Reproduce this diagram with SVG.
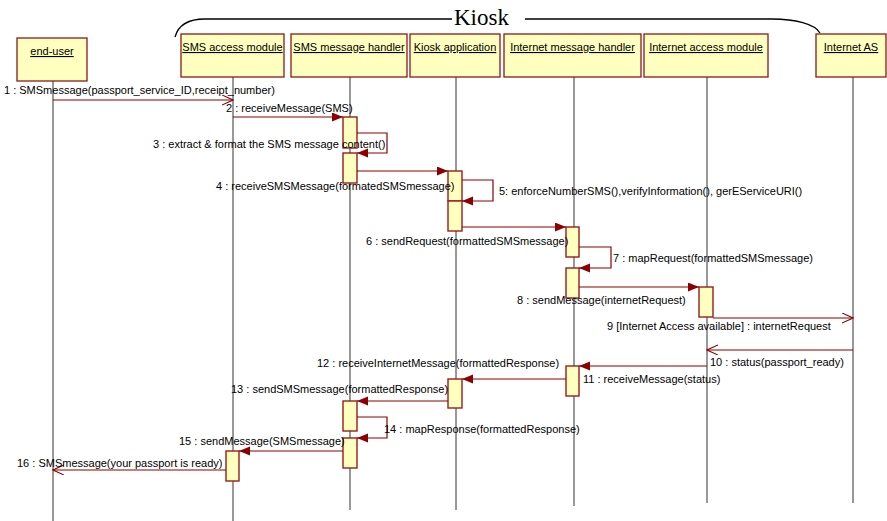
<svg xmlns="http://www.w3.org/2000/svg" width="887" height="521" viewBox="0 0 887 521">
  <style>
    .hdr { fill: #FFFFC0; stroke: #8B1A1A; stroke-width: 1.3; }
    .hdr-t { font-family: "Liberation Sans", Arial, sans-serif; font-size: 11px; fill: #000; text-decoration: underline; text-anchor: middle; }
    .life { stroke: #333; stroke-width: 1; fill: none; }
    .bar { fill: #FFFFC0; stroke: #9B1C1C; stroke-width: 1.4; }
    .msg { stroke: #8B0000; stroke-width: 1.2; fill: none; }
    .call { marker-end: url(#filled); }
    .ret { marker-end: url(#open); }
    .lbl { font-family: "Liberation Sans", Arial, sans-serif; font-size: 11px; fill: #000; }
    .brace { stroke: #000; stroke-width: 1.3; fill: none; }
  </style>
  <defs>
    <marker id="filled" markerUnits="userSpaceOnUse" markerWidth="12" markerHeight="10" refX="11" refY="4.5" orient="auto">
      <path d="M0,0 L11,4.5 L0,9 z" fill="#8B0000"/>
    </marker>
    <marker id="open" markerUnits="userSpaceOnUse" markerWidth="12" markerHeight="12" refX="11" refY="5" orient="auto">
      <path d="M0,0 L11,5 L0,10" fill="none" stroke="#8B0000" stroke-width="1.1"/>
    </marker>
  </defs>

  <rect width="887" height="521" fill="#fff"/>

  <!-- Kiosk grouping brace -->
  <g id="kiosk-frame">
    <path class="brace" d="M175,37 C178,26 186,19 205,19 L452,19"/>
    <path class="brace" d="M525,19 L772,19 C795,19 815,24 820,33"/>
    <text x="454" y="25" font-family="'Liberation Serif', 'Times New Roman', serif" font-size="23" fill="#000">Kiosk</text>
  </g>

  <!-- lifelines -->
  <g id="lifelines">
    <line class="life" x1="53" y1="81" x2="53" y2="521"/>
    <line class="life" x1="233" y1="77" x2="233" y2="521"/>
    <line class="life" x1="350" y1="77" x2="350" y2="510"/>
    <line class="life" x1="456" y1="77" x2="456" y2="510"/>
    <line class="life" x1="574" y1="77" x2="574" y2="506"/>
    <line class="life" x1="707" y1="77" x2="707" y2="503"/>
    <line class="life" x1="853" y1="77" x2="853" y2="503"/>
  </g>

  <!-- participants -->
  <g id="end-user">
    <rect class="hdr" x="17" y="38" width="70" height="43"/>
    <text class="hdr-t" x="52" y="55">end-user</text>
  </g>
  <g id="sms-access-module">
    <rect class="hdr" x="181" y="34" width="103" height="43"/>
    <text class="hdr-t" x="232.5" y="51">SMS access module</text>
  </g>
  <g id="sms-message-handler">
    <rect class="hdr" x="291" y="34" width="116" height="43"/>
    <text class="hdr-t" x="349" y="51">SMS message handler</text>
  </g>
  <g id="kiosk-application">
    <rect class="hdr" x="410" y="34" width="90" height="43"/>
    <text class="hdr-t" x="455" y="51">Kiosk application</text>
  </g>
  <g id="internet-message-handler">
    <rect class="hdr" x="504" y="34" width="137" height="43"/>
    <text class="hdr-t" x="572.5" y="51">Internet message handler</text>
  </g>
  <g id="internet-access-module">
    <rect class="hdr" x="644" y="34" width="124" height="43"/>
    <text class="hdr-t" x="706" y="51">Internet access module</text>
  </g>
  <g id="internet-as">
    <rect class="hdr" x="816" y="34" width="70" height="43"/>
    <text class="hdr-t" x="851" y="51">Internet AS</text>
  </g>

  <!-- activation bars -->
  <g id="activations">
    <rect class="bar" x="343" y="117" width="14" height="31"/>
    <rect class="bar" x="343" y="153" width="14" height="30"/>
    <rect class="bar" x="448" y="171" width="14" height="30"/>
    <rect class="bar" x="448" y="201" width="14" height="30"/>
    <rect class="bar" x="566" y="227" width="13" height="30"/>
    <rect class="bar" x="566" y="268" width="13" height="30"/>
    <rect class="bar" x="699" y="287" width="14" height="30"/>
    <rect class="bar" x="566" y="366" width="13" height="30"/>
    <rect class="bar" x="448" y="379" width="14" height="29"/>
    <rect class="bar" x="343" y="401" width="14" height="30"/>
    <rect class="bar" x="343" y="438" width="14" height="30"/>
    <rect class="bar" x="226" y="451" width="13" height="30"/>
  </g>

  <!-- messages -->
  <g id="connectors">
    <line class="msg ret" x1="53" y1="100" x2="233" y2="100"/>
    <line class="msg call" x1="233" y1="117" x2="343" y2="117"/>
    <polyline class="msg call" points="357,133 387,133 387,153 357,153"/>
    <line class="msg call" x1="357" y1="171" x2="448" y2="171"/>
    <polyline class="msg call" points="462,180 493,180 493,201 462,201"/>
    <line class="msg call" x1="462" y1="227" x2="566" y2="227"/>
    <polyline class="msg call" points="579,247 611,247 611,268 579,268"/>
    <line class="msg call" x1="579" y1="287" x2="699" y2="287"/>
    <line class="msg ret" x1="713" y1="318" x2="853" y2="318"/>
    <line class="msg ret" x1="853" y1="350" x2="707" y2="350"/>
    <line class="msg call" x1="707" y1="366" x2="579" y2="366"/>
    <line class="msg call" x1="566" y1="379" x2="462" y2="379"/>
    <line class="msg call" x1="448" y1="401" x2="357" y2="401"/>
    <polyline class="msg call" points="357,417 387,417 387,438 357,438"/>
    <line class="msg call" x1="343" y1="451" x2="239" y2="451"/>
    <line class="msg ret" x1="226" y1="470" x2="53" y2="470"/>
  </g>

  <!-- message labels -->
  <g id="labels">
    <text class="lbl" x="4" y="94">1 : SMSmessage(passport_service_ID,receipt_number)</text>
    <text class="lbl" x="226" y="112">2 : receiveMessage(SMS)</text>
    <text class="lbl" x="153" y="148">3 : extract &amp; format the SMS message content()</text>
    <text class="lbl" x="216" y="190">4 : receiveSMSMessage(formatedSMSmessage)</text>
    <text class="lbl" x="499" y="195">5: enforceNumberSMS(),verifyInformation(), gerEServiceURI()</text>
    <text class="lbl" x="366" y="245">6 : sendRequest(formattedSMSmessage)</text>
    <text class="lbl" x="613" y="262">7 : mapRequest(formattedSMSmessage)</text>
    <text class="lbl" x="517" y="304">8 : sendMessage(internetRequest)</text>
    <text class="lbl" x="607" y="330">9 [Internet Access available] : internetRequest</text>
    <text class="lbl" x="710" y="366">10 : status(passport_ready)</text>
    <text class="lbl" x="583" y="383">11 : receiveMessage(status)</text>
    <text class="lbl" x="317" y="367">12 : receiveInternetMessage(formattedResponse)</text>
    <text class="lbl" x="231" y="393">13 : sendSMSmessage(formattedResponse)</text>
    <text class="lbl" x="384" y="433">14 : mapResponse(formattedResponse)</text>
    <text class="lbl" x="179" y="445">15 : sendMessage(SMSmessage)</text>
    <text class="lbl" x="17" y="467">16 : SMSmessage(your passport is ready)</text>
  </g>
</svg>
